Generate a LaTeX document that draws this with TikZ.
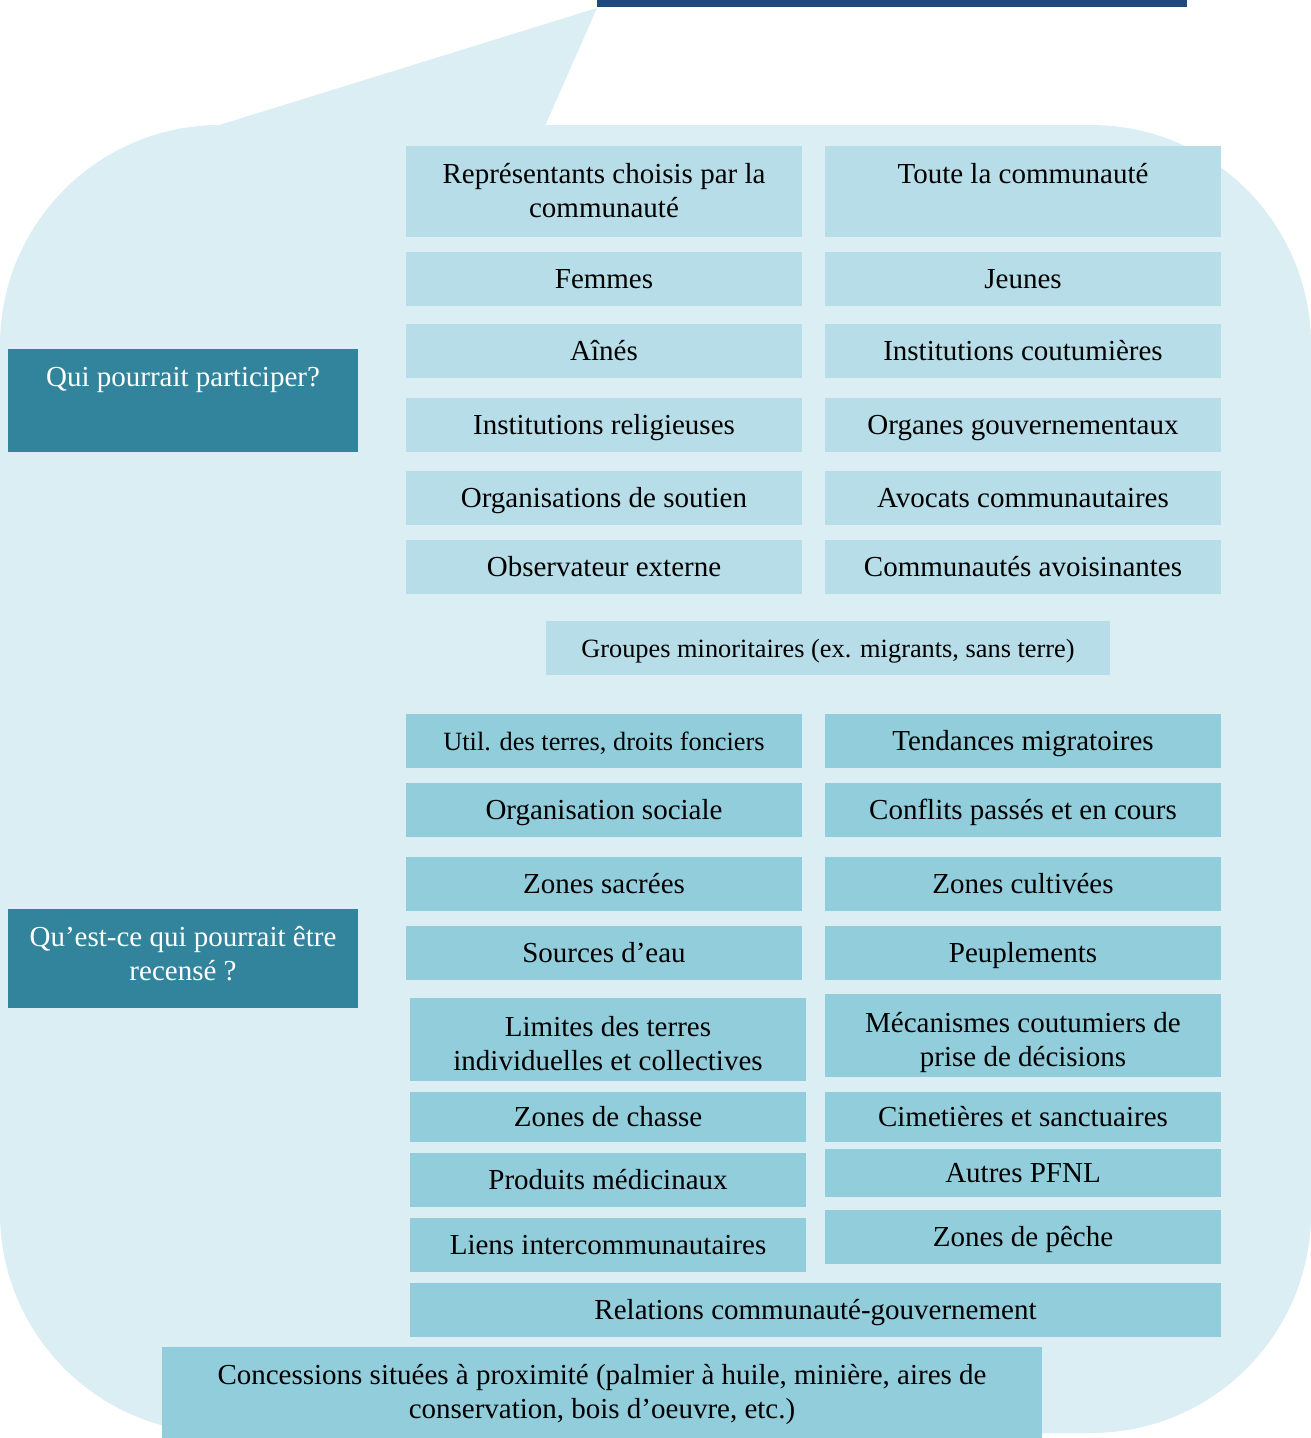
\documentclass[tikz,border=0pt]{standalone}
\usepackage{fontspec}
\setmainfont{Liberation Serif}
\definecolor{calloutbg}{HTML}{DAEEF3}
\definecolor{tilelight}{HTML}{B7DDE8}
\definecolor{tiledeep}{HTML}{92CDDC}
\definecolor{questteal}{HTML}{31849B}
\definecolor{barblue}{HTML}{1F497D}
\newcommand{\boxfont}{\fontsize{16.5}{19.3}\selectfont}
\newcommand{\smallboxfont}{\fontsize{15}{18}\selectfont}
\newcommand{\linestrut}{\rule[-3.56pt]{0pt}{18.26pt}}

\begin{document}
\begin{tikzpicture}[x=0.2mm, y=-0.2mm,
    tile/.style={fill=tilelight, inner sep=0pt, align=center, font=\boxfont,
                 minimum width=79.2mm, minimum height=10.8mm,
                 execute at begin node=\linestrut, execute at end node=\linestrut},
    deep/.style={tile, fill=tiledeep},
    quest/.style={tile, fill=questteal, text=white, minimum width=70mm},
]
\useasboundingbox (0,0) rectangle (1311,1438);
\fill[calloutbg, rounded corners=44mm] (0,125) rectangle (1311,1433);
\fill[calloutbg] (216,126) -- (597,8) -- (545,126) -- (545,140) -- (216,140) -- cycle;
\fill[barblue] (597,0) rectangle (1187,7);
\node[quest, minimum height=20.6mm, text height=21pt, text depth=37.4pt] (qui) at (183,400.5)
   {Qui pourrait participer?};
\node[quest, minimum height=19.8mm, text depth=5.8pt] (quoi) at (183,958.5)
   {Qu’est-ce qui pourrait être\\recensé ?};
\node[tile, minimum height=18.2mm, text height=32.9pt] (rep) at (604,191.5)
   {Représentants choisis par la\\communauté};
\node[tile, minimum height=18.2mm, text height=21pt, text depth=30.6pt] (toute) at (1023,191.5)
   {Toute la communauté};
\node[tile] (femmes)   at (604,278.5)  {Femmes};
\node[tile] (jeunes)   at (1023,278.5) {Jeunes};
\node[tile] (aines)    at (604,351)    {Aînés};
\node[tile] (coutumes) at (1023,351)   {Institutions coutumières};
\node[tile] (religion) at (604,425)    {Institutions religieuses};
\node[tile] (organes)  at (1023,425)   {Organes gouvernementaux};
\node[tile] (soutien)  at (604,498)    {Organisations de soutien};
\node[tile] (avocats)  at (1023,498)   {Avocats communautaires};
\node[tile] (observ)   at (604,567)    {Observateur externe};
\node[tile] (voisins)  at (1023,567)   {Communautés avoisinantes};
\node[tile, minimum width=112.8mm, font=\smallboxfont] (minorites) at (828,648)
   {Groupes minoritaires (ex. migrants, sans terre)};
\node[deep, font=\smallboxfont] (terres) at (604,741) {Util. des terres, droits fonciers};
\node[deep] (migration)   at (1023,741) {Tendances migratoires};
\node[deep] (orgsoc)      at (604,810)  {Organisation sociale};
\node[deep] (conflits)    at (1023,810) {Conflits passés et en cours};
\node[deep] (sacrees)     at (604,884)  {Zones sacrées};
\node[deep] (cultures)    at (1023,884) {Zones cultivées};
\node[deep] (eau)         at (604,953)  {Sources d’eau};
\node[deep] (peuplements) at (1023,953) {Peuplements};
\node[deep, minimum height=16.6mm, text height=38.6pt] (limites) at (608,1039.5)
   {Limites des terres\\individuelles et collectives};
\node[deep, minimum height=16.6mm, text height=38.6pt] (decisions) at (1023,1035.5)
   {Mécanismes coutumiers de\\prise de décisions};
\node[deep, minimum height=10mm] (chasse)     at (608,1117)  {Zones de chasse};
\node[deep, minimum height=10mm] (cimetieres) at (1023,1117) {Cimetières et sanctuaires};
\node[deep] (medicinaux) at (608,1180) {Produits médicinaux};
\node[deep, minimum height=9.6mm] (pfnl) at (1023,1173) {Autres PFNL};
\node[deep] (liens) at (608,1245)  {Liens intercommunautaires};
\node[deep] (peche) at (1023,1237) {Zones de pêche};
\node[deep, minimum width=162.2mm] (relations) at (815.5,1310) {Relations communauté-gouvernement};
\node[deep, minimum width=176mm, minimum height=18.2mm, text height=32.9pt] (concessions) at (602,1392.5)
   {Concessions situées à proximité (palmier à huile, minière, aires de\\conservation, bois d’oeuvre, etc.)};
\end{tikzpicture}
\end{document}
